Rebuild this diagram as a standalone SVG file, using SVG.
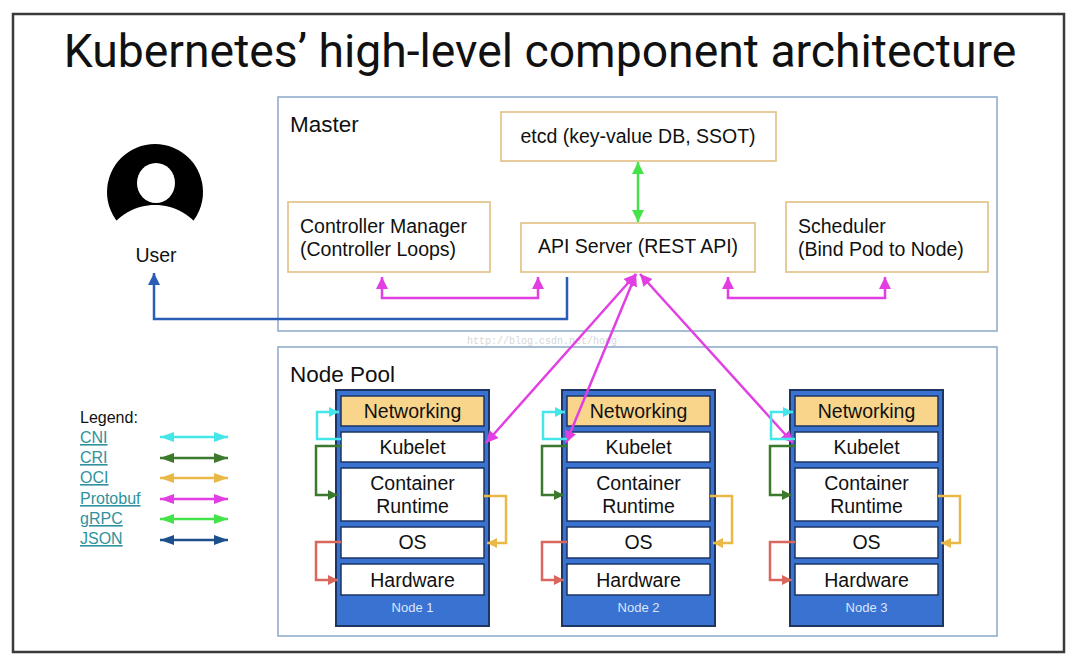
<svg xmlns="http://www.w3.org/2000/svg" width="1080" height="669" viewBox="0 0 1080 669">
<defs>
<style>
.frame{fill:#fff;stroke:#3a3a3a;stroke-width:2.5}
.area{fill:#fff;stroke:#8ba8c8;stroke-width:1.5}
.comp{fill:#fff;stroke:#dfc081;stroke-width:1.6}
.t{font-family:"Liberation Sans",Arial,sans-serif;fill:#111}
.outer{fill:#3a72d2;stroke:#1d3563;stroke-width:2}
.inner{fill:#fff;stroke:#1d3563;stroke-width:1.5}
.net{fill:#f9d58c;stroke:#1d3563;stroke-width:1.5}
.c{fill:none;stroke-width:2.5;stroke-linejoin:miter}
.lg{font-family:"Liberation Sans",Arial,sans-serif;font-size:16px;fill:#2f929c;text-decoration:underline}
</style>
<marker id="mM" viewBox="0 0 10 10" refX="10" refY="5" markerWidth="12" markerHeight="12" markerUnits="userSpaceOnUse" orient="auto-start-reverse"><path d="M0,0 L10,5 L0,10 z" fill="#e23fe3"/></marker>
<marker id="mG" viewBox="0 0 10 10" refX="10" refY="5" markerWidth="12" markerHeight="12" markerUnits="userSpaceOnUse" orient="auto-start-reverse"><path d="M0,0 L10,5 L0,10 z" fill="#44e34a"/></marker>
<marker id="mB" viewBox="0 0 10 10" refX="10" refY="5" markerWidth="12" markerHeight="12" markerUnits="userSpaceOnUse" orient="auto-start-reverse"><path d="M0,0 L10,5 L0,10 z" fill="#2a5db5"/></marker>
<marker id="mC" viewBox="0 0 10 10" refX="10" refY="5" markerWidth="10" markerHeight="10" markerUnits="userSpaceOnUse" orient="auto-start-reverse"><path d="M0,0 L10,5 L0,10 z" fill="#45e6ea"/></marker>
<marker id="mD" viewBox="0 0 10 10" refX="10" refY="5" markerWidth="10" markerHeight="10" markerUnits="userSpaceOnUse" orient="auto-start-reverse"><path d="M0,0 L10,5 L0,10 z" fill="#3b7a2c"/></marker>
<marker id="mY" viewBox="0 0 10 10" refX="10" refY="5" markerWidth="10" markerHeight="10" markerUnits="userSpaceOnUse" orient="auto-start-reverse"><path d="M0,0 L10,5 L0,10 z" fill="#e9b847"/></marker>
<marker id="mR" viewBox="0 0 10 10" refX="10" refY="5" markerWidth="10" markerHeight="10" markerUnits="userSpaceOnUse" orient="auto-start-reverse"><path d="M0,0 L10,5 L0,10 z" fill="#d9675e"/></marker>
<marker id="lC" viewBox="0 0 14 10" refX="14" refY="5" markerWidth="14" markerHeight="10" markerUnits="userSpaceOnUse" orient="auto-start-reverse"><path d="M0,0 L14,5 L0,10 z" fill="#45e6ea"/></marker>
<marker id="lD" viewBox="0 0 14 10" refX="14" refY="5" markerWidth="14" markerHeight="10" markerUnits="userSpaceOnUse" orient="auto-start-reverse"><path d="M0,0 L14,5 L0,10 z" fill="#3b7a2c"/></marker>
<marker id="lY" viewBox="0 0 14 10" refX="14" refY="5" markerWidth="14" markerHeight="10" markerUnits="userSpaceOnUse" orient="auto-start-reverse"><path d="M0,0 L14,5 L0,10 z" fill="#e9b847"/></marker>
<marker id="lM" viewBox="0 0 14 10" refX="14" refY="5" markerWidth="14" markerHeight="10" markerUnits="userSpaceOnUse" orient="auto-start-reverse"><path d="M0,0 L14,5 L0,10 z" fill="#e23fe3"/></marker>
<marker id="lG" viewBox="0 0 14 10" refX="14" refY="5" markerWidth="14" markerHeight="10" markerUnits="userSpaceOnUse" orient="auto-start-reverse"><path d="M0,0 L14,5 L0,10 z" fill="#44e34a"/></marker>
<marker id="lN" viewBox="0 0 14 10" refX="14" refY="5" markerWidth="14" markerHeight="10" markerUnits="userSpaceOnUse" orient="auto-start-reverse"><path d="M0,0 L14,5 L0,10 z" fill="#1d4f8a"/></marker>
</defs>
<rect width="1080" height="669" fill="#fff"/>
<rect class="frame" x="13" y="14" width="1051" height="638"/>
<text x="540" y="67" text-anchor="middle" style="font-family:Roboto,'Liberation Sans',sans-serif;font-size:46.3px;fill:#111">Kubernetes’ high-level component architecture</text>

<g id="master">
<rect class="area" x="278" y="97" width="719" height="234"/>
<text class="t" x="290" y="132" font-size="22.5">Master</text>
</g>
<g id="nodepool">
<rect class="area" x="278" y="347" width="719" height="289"/>
<text class="t" x="290" y="382" font-size="22.5">Node Pool</text>
</g>
<text x="467" y="344" style="font-family:'Liberation Mono',monospace;font-size:10px;fill:#d6d6d6">http://blog.csdn.net/hong</text>

<g id="etcd">
<rect class="comp" x="501" y="112" width="275" height="49"/>
<text class="t" x="638" y="143" font-size="19.5" text-anchor="middle">etcd (key-value DB, SSOT)</text>
</g>
<g id="controller-manager">
<rect class="comp" x="288" y="202" width="202" height="70"/>
<text class="t" x="300" y="233" font-size="19.5">Controller Manager</text>
<text class="t" x="300" y="256" font-size="19.5">(Controller Loops)</text>
</g>
<g id="api-server">
<rect class="comp" x="521" y="223" width="234" height="49"/>
<text class="t" x="638" y="253" font-size="19.5" text-anchor="middle">API Server (REST API)</text>
</g>
<g id="scheduler">
<rect class="comp" x="786" y="202" width="202" height="70"/>
<text class="t" x="798" y="233" font-size="19.5">Scheduler</text>
<text class="t" x="798" y="256" font-size="19.5">(Bind Pod to Node)</text>
</g>

<g id="user">
<circle cx="155" cy="192" r="48" fill="#000"/>
<path d="M100 245 L104 236 C118 214 136 205 155 205 C174 205 192 214 206 236 L210 245 Z" fill="#fff"/>
<ellipse cx="156" cy="183" rx="19" ry="20" fill="#fff"/>
<text class="t" x="156" y="262" font-size="19.5" text-anchor="middle">User</text>
</g>

<g id="node1" transform="translate(336,0)">
<rect class="outer" x="0" y="390" width="153" height="236"/>
<rect class="net" x="5" y="396" width="143" height="30"/>
<rect class="inner" x="5" y="432" width="143" height="30"/>
<rect class="inner" x="5" y="468" width="143" height="53"/>
<rect class="inner" x="5" y="527" width="143" height="31"/>
<rect class="inner" x="5" y="564" width="143" height="31"/>
<g class="t" font-size="19.5" text-anchor="middle">
<text x="76.5" y="418">Networking</text>
<text x="76.5" y="454">Kubelet</text>
<text x="76.5" y="490">Container</text>
<text x="76.5" y="513">Runtime</text>
<text x="76.5" y="549">OS</text>
<text x="76.5" y="587">Hardware</text>
</g>
<text x="76.5" y="612" text-anchor="middle" style="font-family:'Liberation Sans',Arial,sans-serif;font-size:13px;fill:#dbe6fb">Node 1</text>
</g>
<g id="node2" transform="translate(562,0)">
<rect class="outer" x="0" y="390" width="153" height="236"/>
<rect class="net" x="5" y="396" width="143" height="30"/>
<rect class="inner" x="5" y="432" width="143" height="30"/>
<rect class="inner" x="5" y="468" width="143" height="53"/>
<rect class="inner" x="5" y="527" width="143" height="31"/>
<rect class="inner" x="5" y="564" width="143" height="31"/>
<g class="t" font-size="19.5" text-anchor="middle">
<text x="76.5" y="418">Networking</text>
<text x="76.5" y="454">Kubelet</text>
<text x="76.5" y="490">Container</text>
<text x="76.5" y="513">Runtime</text>
<text x="76.5" y="549">OS</text>
<text x="76.5" y="587">Hardware</text>
</g>
<text x="76.5" y="612" text-anchor="middle" style="font-family:'Liberation Sans',Arial,sans-serif;font-size:13px;fill:#dbe6fb">Node 2</text>
</g>
<g id="node3" transform="translate(790,0)">
<rect class="outer" x="0" y="390" width="153" height="236"/>
<rect class="net" x="5" y="396" width="143" height="30"/>
<rect class="inner" x="5" y="432" width="143" height="30"/>
<rect class="inner" x="5" y="468" width="143" height="53"/>
<rect class="inner" x="5" y="527" width="143" height="31"/>
<rect class="inner" x="5" y="564" width="143" height="31"/>
<g class="t" font-size="19.5" text-anchor="middle">
<text x="76.5" y="418">Networking</text>
<text x="76.5" y="454">Kubelet</text>
<text x="76.5" y="490">Container</text>
<text x="76.5" y="513">Runtime</text>
<text x="76.5" y="549">OS</text>
<text x="76.5" y="587">Hardware</text>
</g>
<text x="76.5" y="612" text-anchor="middle" style="font-family:'Liberation Sans',Arial,sans-serif;font-size:13px;fill:#dbe6fb">Node 3</text>
</g>

<g id="legend">
<text x="80" y="423" style="font-family:'Liberation Sans',Arial,sans-serif;font-size:16px;fill:#111">Legend:</text>
<text class="lg" x="80" y="443">CNI</text>
<text class="lg" x="80" y="463">CRI</text>
<text class="lg" x="80" y="483">OCI</text>
<text class="lg" x="80" y="504">Protobuf</text>
<text class="lg" x="80" y="524">gRPC</text>
<text class="lg" x="80" y="544">JSON</text>
<g class="c" stroke-width="3">
<path d="M160 437 H228" stroke="#45e6ea" marker-start="url(#lC)" marker-end="url(#lC)"/>
<path d="M160 458 H228" stroke="#3b7a2c" marker-start="url(#lD)" marker-end="url(#lD)"/>
<path d="M160 478 H228" stroke="#e9b847" marker-start="url(#lY)" marker-end="url(#lY)"/>
<path d="M160 499 H228" stroke="#e23fe3" marker-start="url(#lM)" marker-end="url(#lM)"/>
<path d="M160 519 H228" stroke="#44e34a" marker-start="url(#lG)" marker-end="url(#lG)"/>
<path d="M160 540 H228" stroke="#1d4f8a" marker-start="url(#lN)" marker-end="url(#lN)"/>
</g>
</g>

<g id="connectors" class="c">
<path d="M638 162 V222" stroke="#44e34a" marker-start="url(#mG)" marker-end="url(#mG)"/>
<path d="M382 277 V298 H538 V277" stroke="#e23fe3" marker-start="url(#mM)" marker-end="url(#mM)"/>
<path d="M728 277 V298 H885 V277" stroke="#e23fe3" marker-start="url(#mM)" marker-end="url(#mM)"/>
<path d="M567 277 V319 H154 V273" stroke="#2a5db5" marker-end="url(#mB)"/>
<path d="M636 274 L486 443" stroke="#e23fe3" marker-start="url(#mM)" marker-end="url(#mM)"/>
<path d="M636 274 L566 443" stroke="#e23fe3" marker-start="url(#mM)" marker-end="url(#mM)"/>
<path d="M640 274 L793 443" stroke="#e23fe3" marker-start="url(#mM)" marker-end="url(#mM)"/>
<g id="node1-links" transform="translate(336,0)">
<path d="M5 439 H-19 V412 H3" stroke="#45e6ea" marker-end="url(#mC)"/>
<path d="M5 446 H-20 V495 H2" stroke="#3b7a2c" marker-end="url(#mD)"/>
<path d="M148 496 H170 V543 H151" stroke="#e9b847" marker-end="url(#mY)"/>
<path d="M5 542 H-20 V580 H2" stroke="#d9675e" marker-end="url(#mR)"/>
</g>
<g id="node2-links" transform="translate(562,0)">
<path d="M5 439 H-19 V412 H3" stroke="#45e6ea" marker-end="url(#mC)"/>
<path d="M5 446 H-20 V495 H2" stroke="#3b7a2c" marker-end="url(#mD)"/>
<path d="M148 496 H170 V543 H151" stroke="#e9b847" marker-end="url(#mY)"/>
<path d="M5 542 H-20 V580 H2" stroke="#d9675e" marker-end="url(#mR)"/>
</g>
<g id="node3-links" transform="translate(790,0)">
<path d="M5 439 H-19 V412 H3" stroke="#45e6ea" marker-end="url(#mC)"/>
<path d="M5 446 H-20 V495 H2" stroke="#3b7a2c" marker-end="url(#mD)"/>
<path d="M148 496 H170 V543 H151" stroke="#e9b847" marker-end="url(#mY)"/>
<path d="M5 542 H-20 V580 H2" stroke="#d9675e" marker-end="url(#mR)"/>
</g>
</g>
</svg>
